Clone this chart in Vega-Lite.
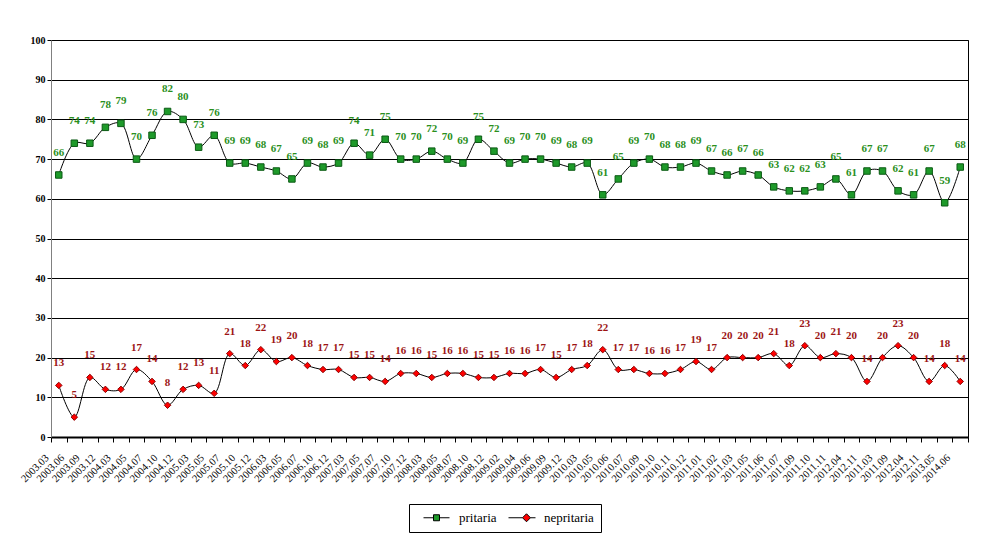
{
  "$schema": "https://vega.github.io/schema/vega-lite/v6.json",
  "autosize": {"type": "none"},
  "width": 917,
  "height": 397,
  "padding": {"left": 51, "top": 40, "right": 22, "bottom": 110},
  "background": "white",
  "config": {
    "font": "Liberation Serif",
    "view": {"stroke": "#000", "strokeWidth": 1},
    "legend": {
      "title": null,
      "orient": "none",
      "legendX": 358,
      "legendY": 464,
      "direction": "horizontal",
      "strokeColor": "#000",
      "padding": 7,
      "symbolSize": 100,
      "symbolStrokeColor": "#000",
      "symbolStrokeWidth": 1,
      "labelFont": "Liberation Serif",
      "labelFontSize": 13,
      "labelColor": "#000",
      "labelOffset": 30,
      "columnPadding": 4
    }
  },
  "data": {
    "values": [
      {"period": "2003.03", "pritaria": 66, "nepritaria": 13},
      {"period": "2003.06", "pritaria": 74, "nepritaria": 5},
      {"period": "2003.09", "pritaria": 74, "nepritaria": 15},
      {"period": "2003.12", "pritaria": 78, "nepritaria": 12},
      {"period": "2004.03", "pritaria": 79, "nepritaria": 12},
      {"period": "2004.05", "pritaria": 70, "nepritaria": 17},
      {"period": "2004.07", "pritaria": 76, "nepritaria": 14},
      {"period": "2004.10", "pritaria": 82, "nepritaria": 8},
      {"period": "2004.12", "pritaria": 80, "nepritaria": 12},
      {"period": "2005.03", "pritaria": 73, "nepritaria": 13},
      {"period": "2005.05", "pritaria": 76, "nepritaria": 11},
      {"period": "2005.07", "pritaria": 69, "nepritaria": 21},
      {"period": "2005.10", "pritaria": 69, "nepritaria": 18},
      {"period": "2005.12", "pritaria": 68, "nepritaria": 22},
      {"period": "2006.03", "pritaria": 67, "nepritaria": 19},
      {"period": "2006.05", "pritaria": 65, "nepritaria": 20},
      {"period": "2006.07", "pritaria": 69, "nepritaria": 18},
      {"period": "2006.10", "pritaria": 68, "nepritaria": 17},
      {"period": "2006.12", "pritaria": 69, "nepritaria": 17},
      {"period": "2007.03", "pritaria": 74, "nepritaria": 15},
      {"period": "2007.05", "pritaria": 71, "nepritaria": 15},
      {"period": "2007.07", "pritaria": 75, "nepritaria": 14},
      {"period": "2007.10", "pritaria": 70, "nepritaria": 16},
      {"period": "2007.12", "pritaria": 70, "nepritaria": 16},
      {"period": "2008.03", "pritaria": 72, "nepritaria": 15},
      {"period": "2008.05", "pritaria": 70, "nepritaria": 16},
      {"period": "2008.07", "pritaria": 69, "nepritaria": 16},
      {"period": "2008.10", "pritaria": 75, "nepritaria": 15},
      {"period": "2008.12", "pritaria": 72, "nepritaria": 15},
      {"period": "2009.02", "pritaria": 69, "nepritaria": 16},
      {"period": "2009.04", "pritaria": 70, "nepritaria": 16},
      {"period": "2009.06", "pritaria": 70, "nepritaria": 17},
      {"period": "2009.09", "pritaria": 69, "nepritaria": 15},
      {"period": "2009.12", "pritaria": 68, "nepritaria": 17},
      {"period": "2010.03", "pritaria": 69, "nepritaria": 18},
      {"period": "2010.05", "pritaria": 61, "nepritaria": 22},
      {"period": "2010.06", "pritaria": 65, "nepritaria": 17},
      {"period": "2010.07", "pritaria": 69, "nepritaria": 17},
      {"period": "2010.09", "pritaria": 70, "nepritaria": 16},
      {"period": "2010.10", "pritaria": 68, "nepritaria": 16},
      {"period": "2010.11", "pritaria": 68, "nepritaria": 17},
      {"period": "2010.12", "pritaria": 69, "nepritaria": 19},
      {"period": "2011.01", "pritaria": 67, "nepritaria": 17},
      {"period": "2011.02", "pritaria": 66, "nepritaria": 20},
      {"period": "2011.03", "pritaria": 67, "nepritaria": 20},
      {"period": "2011.05", "pritaria": 66, "nepritaria": 20},
      {"period": "2011.06", "pritaria": 63, "nepritaria": 21},
      {"period": "2011.07", "pritaria": 62, "nepritaria": 18},
      {"period": "2011.09", "pritaria": 62, "nepritaria": 23},
      {"period": "2011.10", "pritaria": 63, "nepritaria": 20},
      {"period": "2011.11", "pritaria": 65, "nepritaria": 21},
      {"period": "2012.04", "pritaria": 61, "nepritaria": 20},
      {"period": "2012.11", "pritaria": 67, "nepritaria": 14},
      {"period": "2011.03\u200b", "pritaria": 67, "nepritaria": 20},
      {"period": "2011.09\u200b", "pritaria": 62, "nepritaria": 23},
      {"period": "2012.04\u200b", "pritaria": 61, "nepritaria": 20},
      {"period": "2012.11\u200b", "pritaria": 67, "nepritaria": 14},
      {"period": "2013.05", "pritaria": 59, "nepritaria": 18},
      {"period": "2014.06", "pritaria": 68, "nepritaria": 14}
    ]
  },
  "transform": [
    {"fold": ["pritaria", "nepritaria"], "as": ["series", "value"]}
  ],
  "encoding": {
    "x": {
      "field": "period",
      "type": "ordinal",
      "sort": null,
      "bandPosition": 0.5,
      "scale": {"type": "band", "paddingInner": 0, "paddingOuter": 0},
      "axis": {
        "title": null,
        "tickBand": "extent",
        "labelAngle": -45,
        "labelAlign": "right",
        "labelBaseline": "middle",
        "labelFont": "Liberation Serif",
        "labelFontSize": 10.5,
        "labelColor": "#000",
        "labelPadding": 14,
        "labelOffset": -12,
        "tickSize": 5,
        "tickColor": "#000",
        "domainColor": "#000",
        "domainWidth": 2,
        "labelOverlap": false
      }
    },
    "y": {
      "field": "value",
      "type": "quantitative",
      "scale": {"domain": [0, 100], "nice": false},
      "axis": {
        "title": null,
        "values": [0, 10, 20, 30, 40, 50, 60, 70, 80, 90, 100],
        "labelFont": "Liberation Serif",
        "labelFontSize": 10,
        "labelFontWeight": "bold",
        "labelColor": "#000",
        "labelPadding": 2,
        "tickSize": 4,
        "tickColor": "#000",
        "domainColor": "#808080",
        "grid": true,
        "gridColor": "#000",
        "gridWidth": 1.2
      }
    }
  },
  "layer": [
    {
      "mark": {"type": "line", "interpolate": "catmull-rom", "color": "#000", "strokeWidth": 1},
      "encoding": {"detail": {"field": "series"}}
    },
    {
      "mark": {"type": "point", "filled": true, "size": 42, "strokeWidth": 1, "opacity": 1},
      "encoding": {
        "shape": {
          "condition": {"test": "datum.series === 'pritaria'", "value": "square"},
          "value": "diamond"
        },
        "fill": {
          "condition": {"test": "datum.series === 'pritaria'", "value": "#1e9a2a"},
          "value": "#ff0000"
        },
        "stroke": {
          "condition": {"test": "datum.series === 'pritaria'", "value": "#0b5a14"},
          "value": "#8b0000"
        }
      }
    },
    {
      "transform": [{"filter": "datum.value < 0"}],
      "mark": {"type": "point", "filled": true, "strokeWidth": 1, "opacity": 1},
      "encoding": {
        "shape": {
          "field": "series",
          "scale": {
            "domain": ["pritaria", "nepritaria"],
            "range": ["M0.2,0H2.2M3.4,0H5.4M2.2,-0.6H3.4V0.6H2.2Z", "M0.2,0H3M4.6,0H5.6M3.8,-0.8L4.6,0L3.8,0.8L3,0Z"]
          }
        },
        "fill": {
          "field": "series",
          "scale": {"domain": ["pritaria", "nepritaria"], "range": ["#1e9a2a", "#ff0000"]}
        },
        "stroke": {
          "field": "series",
          "scale": {"domain": ["pritaria", "nepritaria"], "range": ["#000000", "#000000"]}
        }
      }
    },
    {
      "mark": {"type": "text", "dy": -22, "baseline": "middle", "align": "center", "font": "Liberation Serif", "fontSize": 11, "fontWeight": "bold"},
      "encoding": {
        "text": {"field": "value", "type": "quantitative"},
        "color": {
          "condition": {"test": "datum.series === 'pritaria'", "value": "#2a8f1c"},
          "value": "#9c1414"
        }
      }
    }
  ]
}
